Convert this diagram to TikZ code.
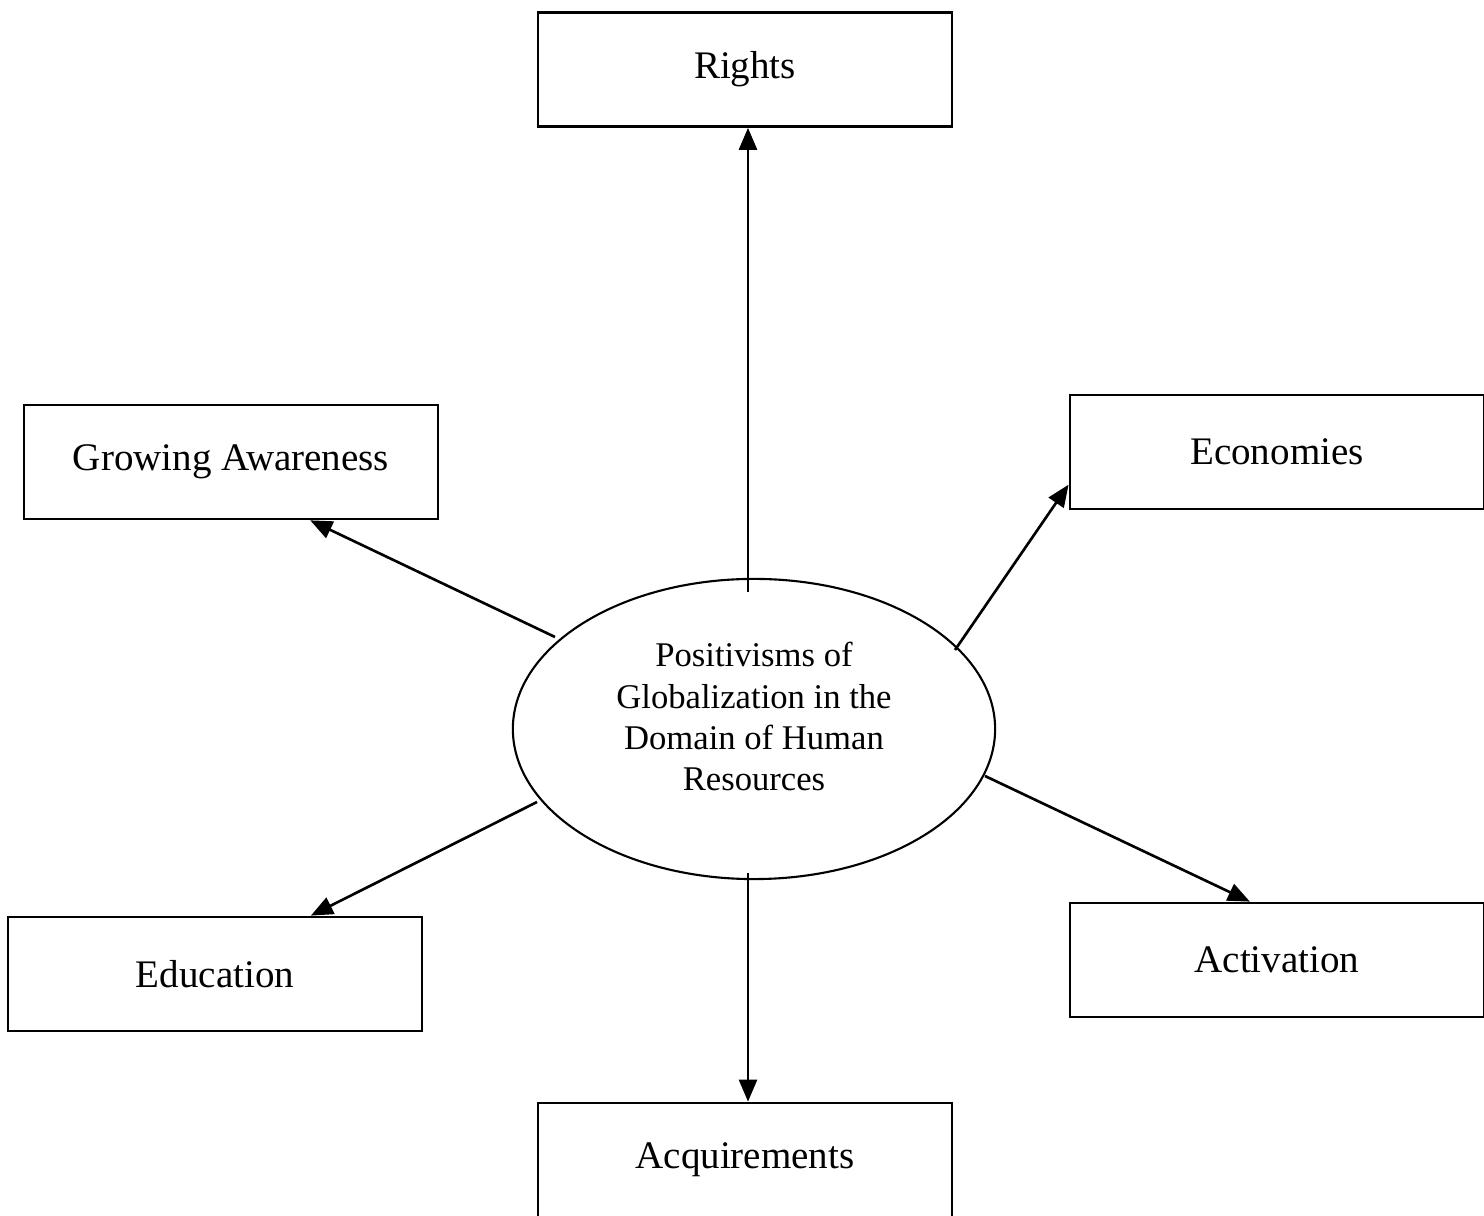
\documentclass[tikz,border=0pt]{standalone}
\usepackage{fontspec}
\setmainfont{Liberation Serif}
\usetikzlibrary{shapes,arrows.meta,positioning,calc}
\tikzstyle{box} = [draw,line width=0.75pt,rectangle,minimum width=4.14cm,minimum height=1.14cm,inner sep=0,font=\fontsize{11.1}{13}\selectfont]
\tikzstyle{core} = [draw,line width=0.6pt,ellipse,minimum width=4.82cm,minimum height=3cm,inner sep=0,text depth=0.25cm,align=center,font=\fontsize{9.85}{11.7}\selectfont]
\tikzstyle{link} = [line width=0.75pt,-{Triangle[length=0.22cm,width=0.18cm]}]

\begin{document}
\begin{tikzpicture}[x=0.01cm,y=-0.01cm]
      \useasboundingbox (0,0) rectangle (1484,1216);
      \node[core] (c) at (754,729) {Positivisms of\\Globalization in the\\Domain of Human\\Resources};
      \node[box] (rights) at (745,69.5) {Rights};
      \node[box] (aware) at (231,462) {Growing Awareness};
      \node[box] (econ) at (1277,452) {Economies};
      \node[box] (edu) at (215,974) {Education};
      \node[box] (activ) at (1277,960) {Activation};
      \node[box] (acq) at (745,1160) {Acquirements};
      % tails of the arrows
      \coordinate (t1) at (748,592);
      \coordinate (t2) at (555,637);
      \coordinate (t3) at (955,650);
      \coordinate (t4) at (537,802);
      \coordinate (t5) at (985,776);
      \coordinate (t6) at (748,873);
      \draw[link] (t1) -- (t1 |- rights.south);
      \draw[link] (t2) -- ($(aware.south west)!0.69!(aware.south east)$);
      \draw[link] (t3) -- ($(econ.north west)!0.78!(econ.south west)$);
      \draw[link] (t4) -- ($(edu.north west)!0.73!(edu.north east)$);
      \draw[link] (t5) -- ($(activ.north west)!0.435!(activ.north east)$);
      \draw[link] (t6) -- (t6 |- acq.north);
    \end{tikzpicture}
\end{document}
